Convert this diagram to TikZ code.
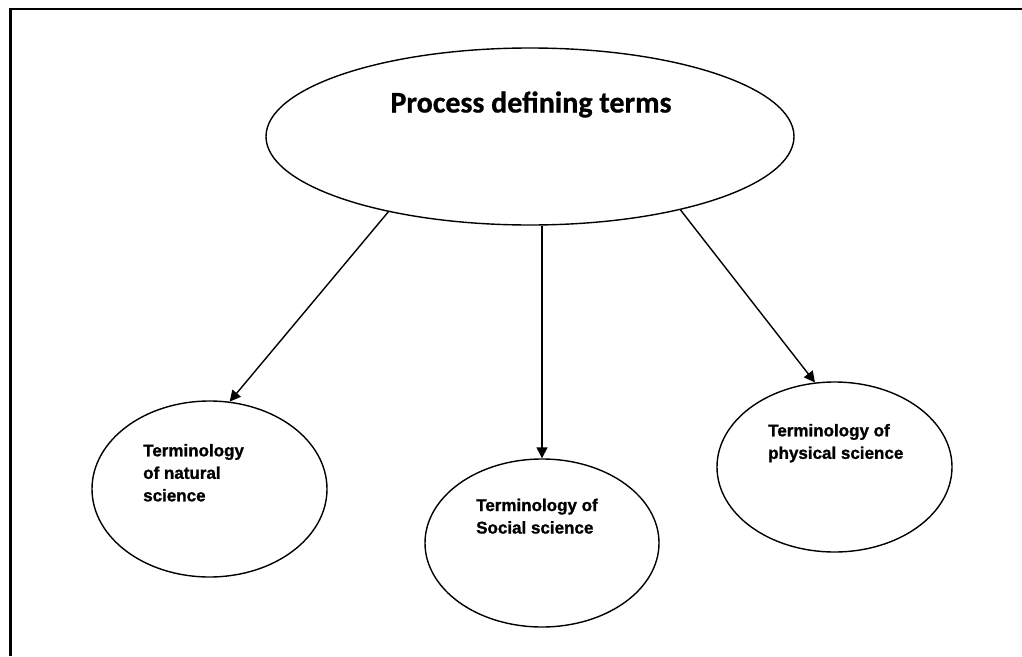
\documentclass[tikz,border=0pt]{standalone}
\usepackage{fontspec}
\setmainfont{Liberation Sans}
\newfontfamily\labelfont[FakeBold=1.2]{Liberation Sans Bold}
\newfontfamily\titlefont[FakeBold=0.8]{Carlito Bold}
\usetikzlibrary{shapes.geometric,arrows.meta}
\begin{document}
\begin{tikzpicture}[x=1pt,y=-1pt,
  termbubble/.style={draw,ellipse,line width=1.4pt,inner sep=0pt},
  termtext/.style={anchor=north west,align=left,inner sep=0pt,
    font=\labelfont\fontsize{17}{22.5}\selectfont},
  linkarrow/.style={line width=1.4pt,-{Triangle[length=11pt,width=11pt]}}]
  \useasboundingbox (0,0) rectangle (1022,656);
  \draw[line width=2.8pt] (10.5,656) -- (10.5,9) -- (1022,9);
  % main ellipse
  \node[termbubble,minimum width=528pt,minimum height=177pt] (process) at (530,136.5) {};
  \node[anchor=base,inner sep=0pt,font=\titlefont\fontsize{30}{35}\selectfont]
    (processtxt) at (531,112.5) {Process defining terms};
  % the three branches
  \node[termbubble,minimum width=235pt,minimum height=176pt] (natural) at (209.5,489) {};
  \node[termbubble,minimum width=234pt,minimum height=168pt] (social) at (542,543) {};
  \node[termbubble,minimum width=235pt,minimum height=170pt] (physical) at (834.5,467) {};
  \node[termtext] (naturaltxt) at (143,443.8) {Terminology\\of natural\\science};
  \node[termtext] (socialtxt) at (476,498.5) {Terminology of\\Social science};
  \node[termtext] (physicaltxt) at (768,423.8) {Terminology of\\physical science};
  \draw[linkarrow] (process.208) -- (natural.77);
  \draw[linkarrow] (process.south -| social.north) -- (social.north);
  \draw[linkarrow] (process.-26) -- (physical.103);
\end{tikzpicture}
\end{document}
